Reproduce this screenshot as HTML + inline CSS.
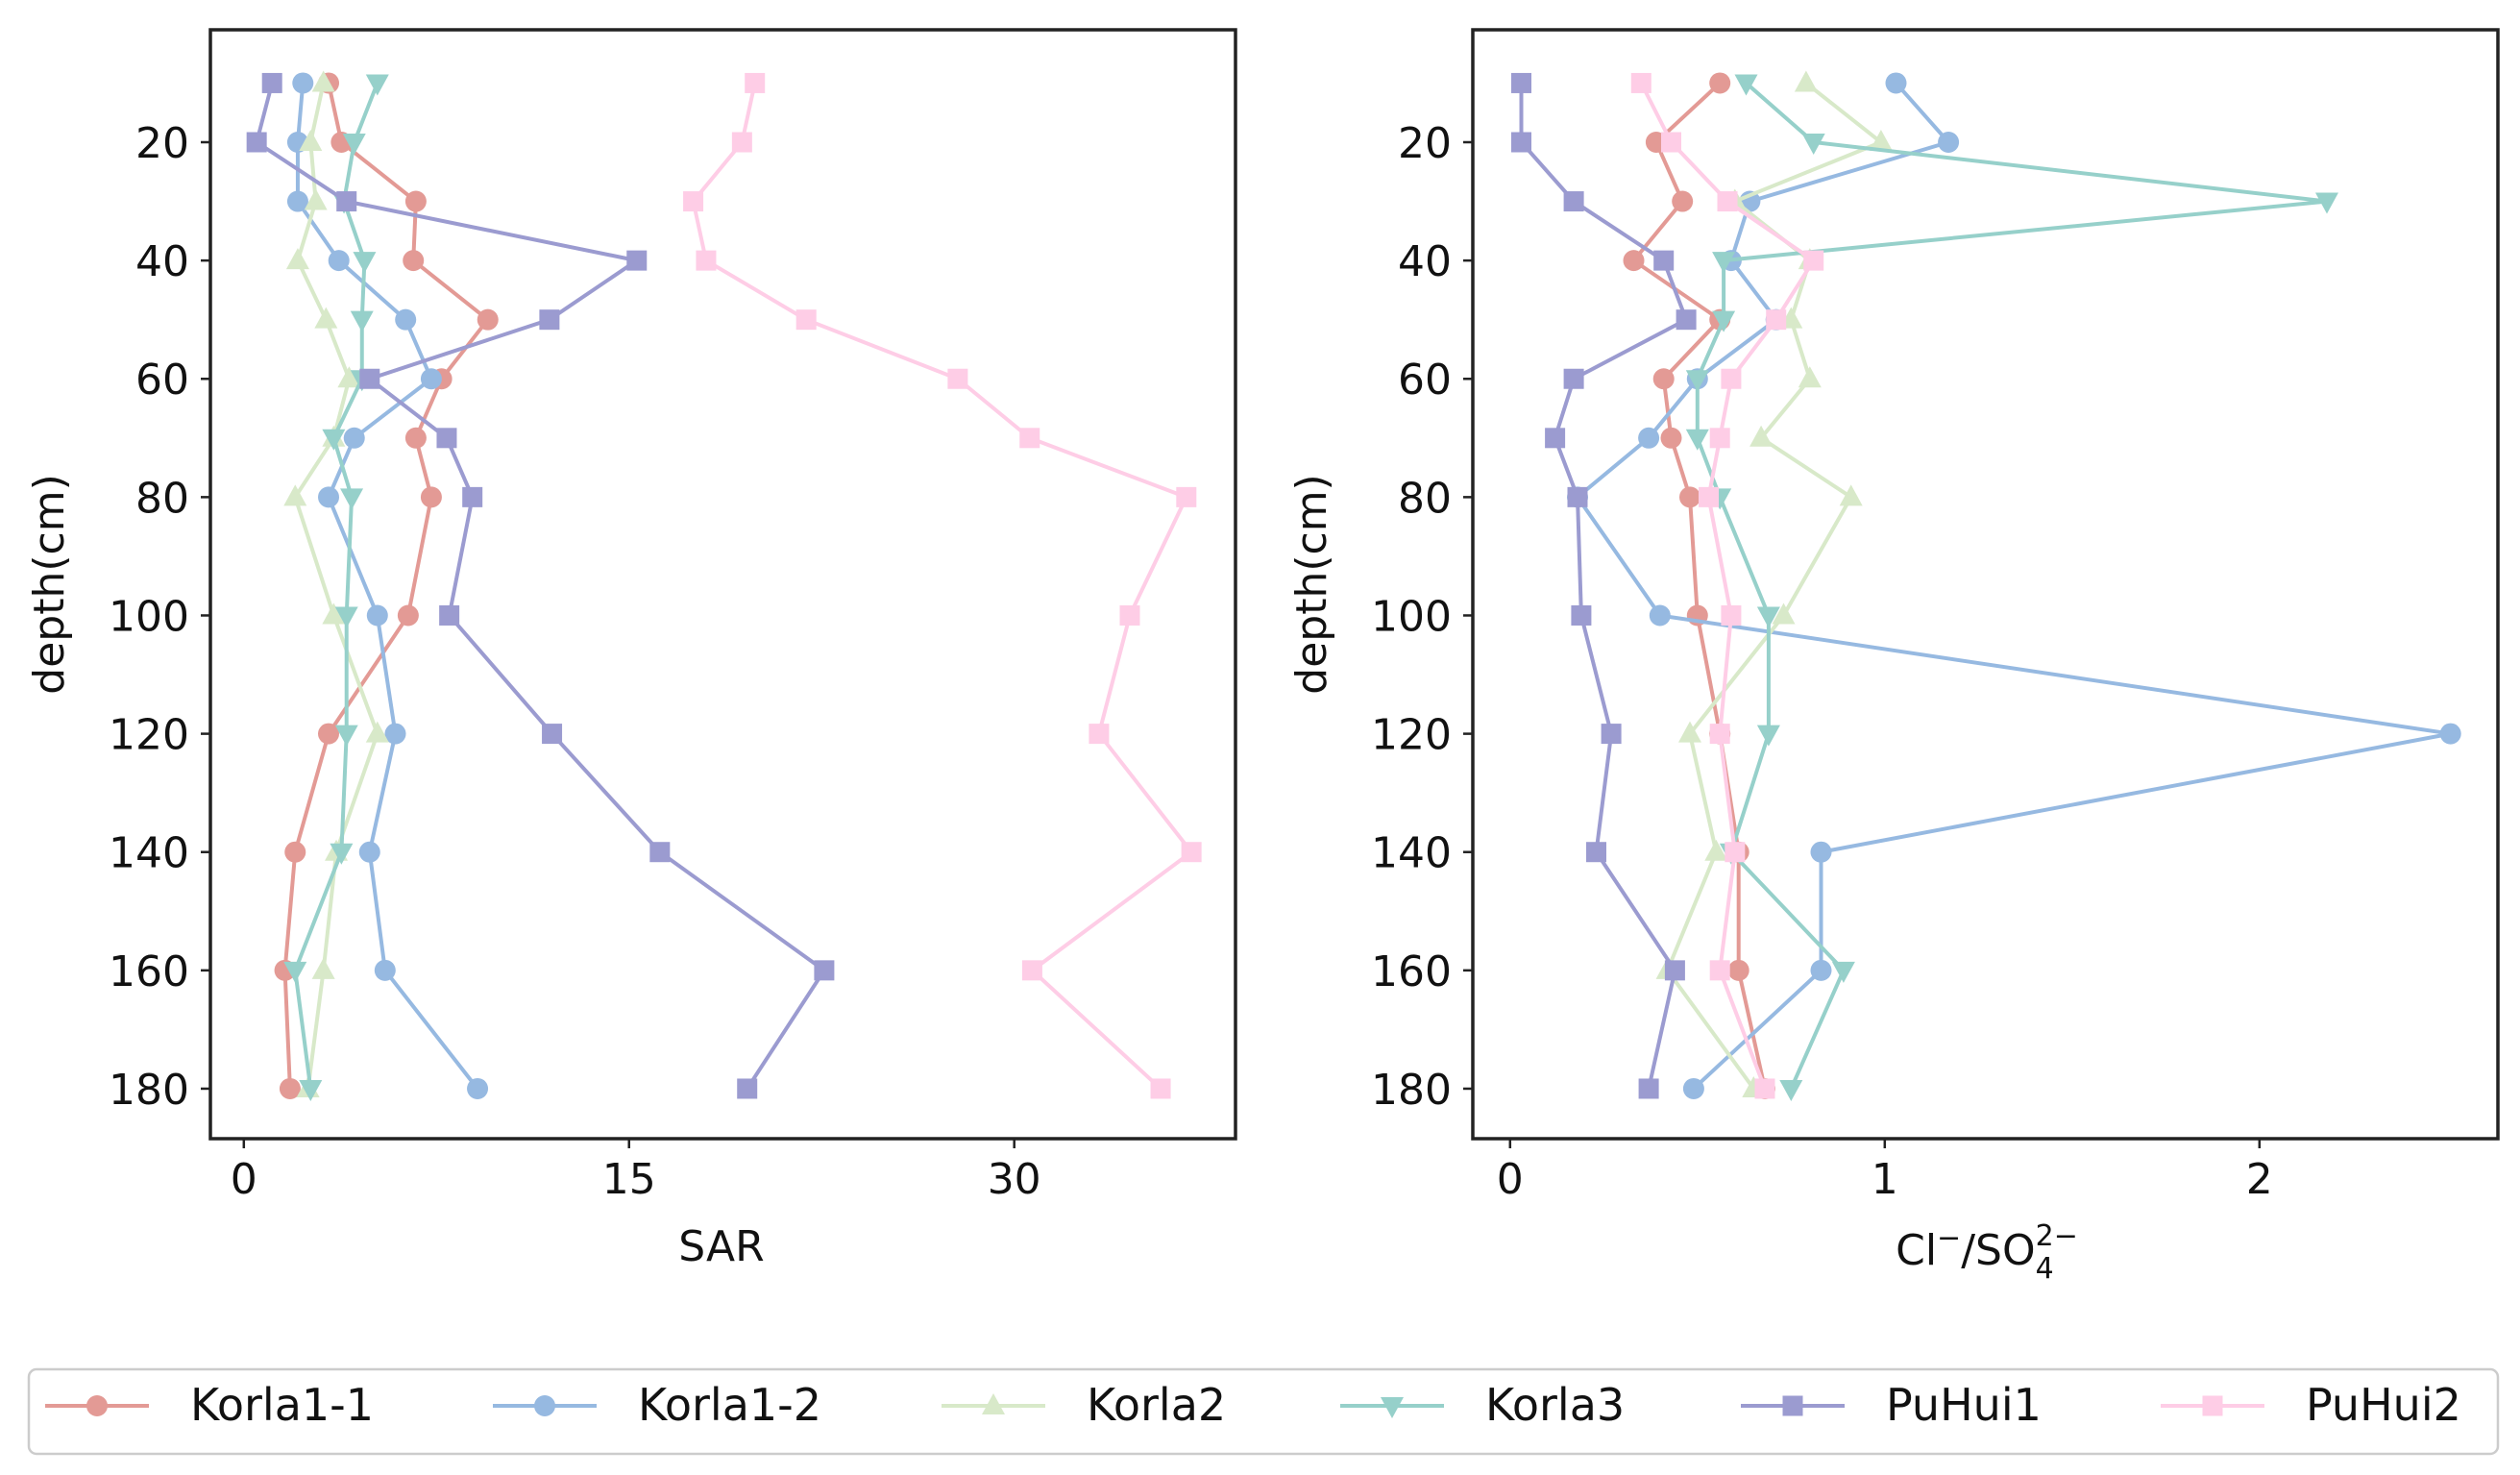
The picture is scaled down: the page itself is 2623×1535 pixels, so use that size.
<!DOCTYPE html>
<html><head><meta charset="utf-8"><style>
html,body{margin:0;padding:0;background:#fff}
svg{display:block;font-family:"DejaVu Sans","Liberation Sans",sans-serif}
</style></head><body>
<svg id="c" width="2623" height="1535" viewBox="0 0 2623 1535"></svg>
<script>
const depths=[10,20,30,40,50,60,70,80,100,120,140,160,180];
const seriesNames=["Korla1-1","Korla1-2","Korla2","Korla3","PuHui1","PuHui2"];
const sarK11=[3.3,3.8,6.7,6.6,9.5,7.7,6.7,7.3,6.4,3.3,2.0,1.6,1.8];
const sarK12=[2.3,2.1,2.1,3.7,6.3,7.3,4.3,3.3,5.2,5.9,4.9,5.5,9.1];
const sarK2=[3.1,2.6,2.8,2.1,3.2,4.1,3.5,2.0,3.5,5.2,3.6,3.1,2.5];
const sarK3=[5.2,4.3,3.9,4.7,4.6,4.6,3.5,4.2,4.0,4.0,3.8,2.0,2.6];
const sarP1=[1.1,0.5,4.0,15.3,11.9,4.9,7.9,8.9,8.0,12.0,16.2,22.6,19.6];
const sarP2=[19.9,19.4,17.5,18.0,21.9,27.8,30.6,36.7,34.5,33.3,36.9,30.7,35.7];
const clK11=[0.56,0.39,0.46,0.33,0.56,0.41,0.43,0.48,0.50,0.56,0.61,0.61,0.68];
const clK12=[1.03,1.17,0.64,0.59,0.71,0.50,0.37,0.18,0.40,2.51,0.83,0.83,0.49];
const clK2=[0.79,0.99,0.60,0.80,0.75,0.80,0.67,0.91,0.73,0.48,0.55,0.42,0.65];
const clK3=[0.63,0.81,2.18,0.57,0.57,0.50,0.50,0.56,0.69,0.69,0.59,0.89,0.75];
const clP1=[0.03,0.03,0.17,0.41,0.47,0.17,0.12,0.18,0.19,0.27,0.23,0.44,0.37];
const clP2=[0.35,0.43,0.58,0.81,0.71,0.59,0.56,0.53,0.59,0.56,0.60,0.56,0.68];
const yTicks=[20,40,60,80,100,120,140,160,180];
const sarTicks=[0,15,30];
const clTicks=[0,1,2];

const colors=["#E39A95","#96B9E1","#D8E9C9","#96D0CA","#9B9BD0","#FECDE6"];
const markers=["circle","circle","up","down","square","square"];
const NS="http://www.w3.org/2000/svg";
const svg=document.getElementById('c');
function mk(t,a,p){const e=document.createElementNS(NS,t);for(const k in a)e.setAttribute(k,a[k]);(p||svg).appendChild(e);return e;}
const yS=d=>148+(d-20)*6.156;

function marker(g,type,x,y,col){
  let e;
  if(type==="circle")e=mk('circle',{cx:x,cy:y,r:11,fill:col},g);
  else if(type==="square")e=mk('rect',{x:x-10.5,y:y-10.5,width:21,height:21,fill:col},g);
  else if(type==="up")e=mk('polygon',{points:`${x},${y-13} ${x-12},${y+9} ${x+12},${y+9}`,fill:col},g);
  else e=mk('polygon',{points:`${x},${y+13} ${x-12},${y-9} ${x+12},${y-9}`,fill:col},g);
  return e;
}

function panel(name,L,R,T,B,xS,xt,data,ylx){
  const g=mk('g',{});
  
  
  data.forEach((vals,i)=>{
    const sg=mk('g',{},g);
    
    
    const pts=vals.map((v,j)=>xS(v)+','+yS(depths[j])).join(' ');
    mk('polyline',{points:pts,fill:'none',stroke:colors[i],'stroke-width':4},sg);
    vals.forEach((v,j)=>{const m=marker(sg,markers[i],xS(v),yS(depths[j]),colors[i]);
      
      });
  });
  mk('rect',{x:L,y:T,width:R-L,height:B-T,fill:'none',stroke:'#222','stroke-width':3.5},g);
  yTicks.forEach(t=>{const y=yS(t);
    mk('line',{x1:L,x2:L-10,y1:y,y2:y,stroke:'#222','stroke-width':2.5},g);
    const tx=mk('text',{x:L-22,y:y+16,'font-size':44,'text-anchor':'end',fill:'#111'},g);tx.textContent=t;
    
    });
  xt.forEach(t=>{const x=xS(t);
    mk('line',{x1:x,x2:x,y1:B,y2:B+10,stroke:'#222','stroke-width':2.5},g);
    const tx=mk('text',{x:x,y:B+57,'font-size':44,'text-anchor':'middle',fill:'#111'},g);tx.textContent=t;
    
    });
  const yl=mk('text',{x:ylx,y:(T+B)/2,'font-size':44,'text-anchor':'middle',fill:'#111',transform:`rotate(-90 ${ylx} ${(T+B)/2})`},g);
  yl.textContent='depth(cm)';
  
  
  return g;
}
const sx=v=>253.8+v*26.73;
const cx=v=>1571.8+v*390;
panel('sar-panel',219,1286,31,1185,sx,sarTicks,[sarK11,sarK12,sarK2,sarK3,sarP1,sarP2],66);
panel('cl-so4-panel',1533,2600,31,1185,cx,clTicks,[clK11,clK12,clK2,clK3,clP1,clP2],1380);
const x1=mk('text',{x:751,y:1312,'font-size':44,'text-anchor':'middle',fill:'#111'});x1.textContent='SAR';


const x2=mk('text',{x:2068,y:1316,'font-size':44,'text-anchor':'middle',fill:'#111'});


x2.innerHTML='Cl<tspan dy="-18" font-size="30">−</tspan><tspan dy="18">/SO</tspan><tspan dy="14" font-size="30">4</tspan><tspan dx="-19" dy="-34" font-size="30">2</tspan><tspan dy="0" font-size="30">−</tspan>';

const lg=mk('g',{});


mk('rect',{x:30,y:1425,width:2570,height:88,rx:8,fill:'#fff',stroke:'#ccc','stroke-width':2.5},lg);
const lx=[47,513,980,1395,1812,2249];
seriesNames.forEach((n,i)=>{
  const e=mk('g',{},lg);
  
  
  mk('line',{x1:lx[i],x2:lx[i]+108,y1:1463,y2:1463,stroke:colors[i],'stroke-width':4},e);
  marker(e,markers[i],lx[i]+54,1463,colors[i]);
  const t=mk('text',{x:lx[i]+151,y:1478,'font-size':46,fill:'#111'},e);t.textContent=n;
});
</script>
</body></html>
